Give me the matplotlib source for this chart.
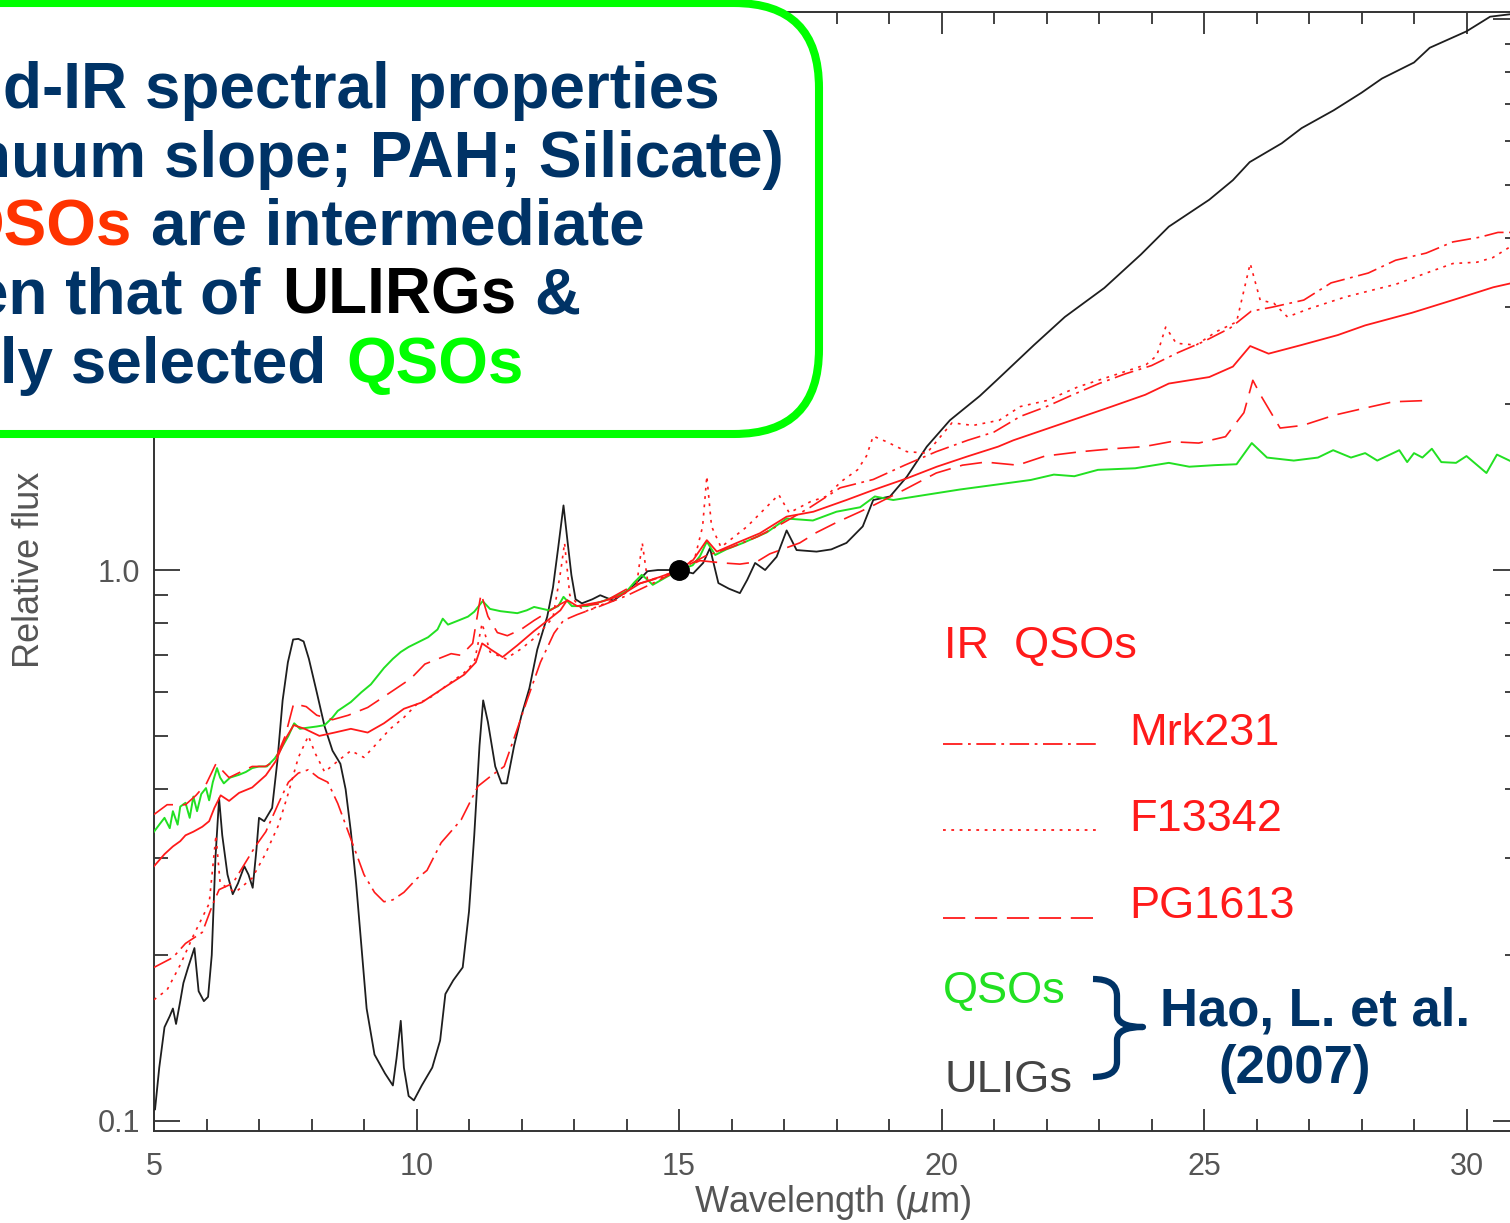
import numpy as np
import matplotlib
matplotlib.use('Agg')
import matplotlib.pyplot as plt
import matplotlib.transforms as mtransforms
from matplotlib.patches import FancyBboxPatch, PathPatch
from matplotlib.path import Path
from matplotlib.lines import Line2D
from matplotlib.ticker import FixedLocator, MultipleLocator, LogLocator, NullFormatter, FuncFormatter

plt.rcParams['lines.scale_dashes'] = False

# ---------------- data ----------------
uligs_wl = [5.02, 5.1, 5.2, 5.3, 5.36, 5.42, 5.5, 5.56, 5.65, 5.77, 5.85, 5.95, 6.03, 6.1, 6.17, 6.24,
            6.3, 6.4, 6.5, 6.6, 6.72, 6.8, 6.88, 6.95, 7.0, 7.1, 7.25, 7.35, 7.45, 7.55, 7.65, 7.75,
            7.85, 7.95, 8.1, 8.25, 8.4, 8.55, 8.65, 8.75, 8.85, 8.95, 9.05, 9.2, 9.4, 9.55, 9.62, 9.7,
            9.76, 9.85, 9.95, 10.1, 10.3, 10.45, 10.55, 10.7, 10.88, 11.0, 11.1, 11.2, 11.27, 11.36,
            11.5, 11.62, 11.72, 11.86, 12.0, 12.15, 12.3, 12.49, 12.6, 12.7, 12.8, 12.88, 12.95, 13.03,
            13.15, 13.35, 13.5, 13.75, 14.0, 14.2, 14.4, 14.6, 14.8, 15.0, 15.27, 15.46, 15.59, 15.75,
            15.95, 16.16, 16.3, 16.45, 16.64, 16.86, 17.05, 17.24, 17.62, 17.9, 18.19, 18.5, 18.7,
            19.02, 19.34, 19.72, 20.16, 20.73, 21.05, 21.76, 22.35, 23.1, 23.8, 24.33, 25.1, 25.55,
            25.87, 26.48, 26.86, 27.47, 28.0, 28.39, 29.0, 29.3, 30.0, 30.45, 31.0]
uligs_flux = [0.105, 0.125, 0.148, 0.155, 0.160, 0.150, 0.165, 0.178, 0.190, 0.206, 0.172, 0.165, 0.168, 0.200, 0.300, 0.385,
              0.330, 0.280, 0.258, 0.270, 0.290, 0.280, 0.265, 0.310, 0.355, 0.350, 0.370, 0.450, 0.580, 0.680, 0.748, 0.750,
              0.742, 0.690, 0.600, 0.520, 0.470, 0.445, 0.400, 0.335, 0.270, 0.208, 0.160, 0.132, 0.122, 0.116, 0.130, 0.152,
              0.125, 0.111, 0.109, 0.116, 0.125, 0.140, 0.170, 0.180, 0.190, 0.240, 0.330, 0.480, 0.580, 0.530,
              0.440, 0.410, 0.410, 0.480, 0.545, 0.610, 0.717, 0.823, 0.930, 1.100, 1.310, 1.120, 0.980, 0.885,
              0.870, 0.885, 0.900, 0.880, 0.915, 0.950, 0.995, 1.000, 1.000, 1.000, 0.986, 1.030, 1.096, 0.947,
              0.925, 0.908, 0.960, 1.030, 1.000, 1.057, 1.180, 1.087, 1.080, 1.090, 1.120, 1.200, 1.340,
              1.360, 1.477, 1.675, 1.870, 2.070, 2.210, 2.560, 2.880, 3.250, 3.740, 4.200, 4.700, 5.100,
              5.500, 5.950, 6.340, 6.830, 7.350, 7.800, 8.340, 8.870, 9.500, 10.10, 10.25]

qso_wl = [5.0, 5.1, 5.2, 5.3, 5.36, 5.45, 5.5, 5.6, 5.68, 5.75, 5.82, 5.9, 5.99, 6.05, 6.12, 6.2, 6.26,
          6.33, 6.45, 6.62, 6.75, 6.87, 7.0, 7.15, 7.3, 7.4, 7.56, 7.67, 7.78, 7.9, 8.1, 8.25, 8.4, 8.5,
          8.75, 8.95, 9.13, 9.38, 9.55, 9.7, 9.85, 10.0, 10.22, 10.4, 10.5, 10.6, 10.8, 10.98, 11.1,
          11.26, 11.4, 11.6, 11.92, 12.1, 12.24, 12.52, 12.7, 12.8, 12.96, 13.25, 13.63, 14.0, 14.15,
          14.29, 14.4, 14.5, 14.75, 15.0, 15.26, 15.4, 15.53, 15.69, 15.9, 16.22, 16.67, 17.05, 17.55,
          18.0, 18.45, 18.73, 19.08, 19.72, 20.35, 21.07, 21.7, 22.14, 22.53, 22.98, 23.69, 24.33,
          24.72, 25.2, 25.62, 25.91, 26.2, 26.71, 27.17, 27.46, 27.8, 28.07, 28.3, 28.72, 28.87, 29.0,
          29.16, 29.34, 29.52, 29.8, 30.0, 30.38, 30.58, 31.0]
qso_flux = [0.335, 0.345, 0.355, 0.340, 0.365, 0.345, 0.372, 0.378, 0.355, 0.388, 0.365, 0.392, 0.402, 0.382, 0.412, 0.437, 0.420,
            0.410, 0.420, 0.425, 0.430, 0.437, 0.440, 0.440, 0.455, 0.470, 0.500, 0.527, 0.515, 0.517, 0.520, 0.523, 0.540, 0.555,
            0.576, 0.600, 0.620, 0.664, 0.690, 0.710, 0.725, 0.737, 0.755, 0.780, 0.816, 0.796, 0.810, 0.823, 0.840,
            0.878, 0.850, 0.842, 0.835, 0.845, 0.857, 0.845, 0.860, 0.894, 0.860, 0.860, 0.883, 0.914, 0.950,
            0.980, 0.960, 0.940, 0.970, 1.000, 1.020, 1.060, 1.126, 1.065, 1.090, 1.120, 1.170, 1.240, 1.230,
            1.276, 1.300, 1.360, 1.340, 1.370, 1.400, 1.430, 1.457, 1.490, 1.480, 1.520, 1.530, 1.565,
            1.540, 1.550, 1.556, 1.700, 1.600, 1.580, 1.600, 1.650, 1.600, 1.630, 1.580, 1.650, 1.570, 1.630,
            1.600, 1.660, 1.570, 1.565, 1.610, 1.500, 1.620, 1.550]

irqso_wl = [5.0, 5.2, 5.36, 5.5, 5.6, 5.75, 5.92, 6.05, 6.15, 6.27, 6.43, 6.62, 6.87, 7.13, 7.32, 7.5, 7.66,
            7.87, 8.15, 8.44, 8.75, 9.07, 9.38, 9.76, 10.1, 10.54, 10.91, 11.13, 11.25, 11.42, 11.64, 11.92,
            12.24, 12.49, 12.74, 12.87, 13.06, 13.5, 13.88, 14.26, 14.63, 15.0, 15.27, 15.53, 15.72, 16.1,
            16.54, 17.05, 17.56, 18.19, 18.7, 19.34, 19.91, 20.48, 21.08, 21.37, 22.34, 23.24, 23.88, 24.33,
            25.1, 25.55, 25.88, 26.23, 26.85, 27.55, 28.07, 28.96, 29.74, 30.51, 31.0]
irqso_flux = [0.290, 0.305, 0.315, 0.322, 0.330, 0.335, 0.342, 0.350, 0.370, 0.390, 0.381, 0.394, 0.403, 0.424, 0.450, 0.493, 0.523,
              0.515, 0.500, 0.507, 0.515, 0.507, 0.527, 0.560, 0.575, 0.613, 0.646, 0.680, 0.736, 0.717, 0.695, 0.730,
              0.775, 0.809, 0.845, 0.882, 0.860, 0.875, 0.898, 0.946, 0.971, 1.000, 1.043, 1.133, 1.080, 1.120,
              1.166, 1.250, 1.276, 1.340, 1.397, 1.467, 1.540, 1.606, 1.675, 1.720, 1.850, 1.980, 2.080, 2.180,
              2.240, 2.340, 2.550, 2.470, 2.560, 2.670, 2.780, 2.930, 3.090, 3.260, 3.340]

mrk231_wl = [5.0, 5.36, 5.6, 5.92, 6.11, 6.24, 6.5, 6.93, 7.13, 7.37, 7.56, 7.75, 7.94, 8.13, 8.31, 8.5,
             8.75, 9.0, 9.2, 9.38, 9.55, 9.76, 10.0, 10.2, 10.47, 10.85, 11.17, 11.42, 11.67, 11.92, 12.11,
             12.36, 12.62, 12.8, 13.06, 13.5, 14.0, 14.5, 15.0, 15.5, 16.0, 16.5, 17.0, 17.5, 18.07, 18.7,
             19.3, 19.9, 20.5, 21.0, 21.5, 22.0, 22.5, 23.0, 23.5, 24.0, 24.5, 25.0, 25.5, 25.9, 26.3, 26.9,
             27.42, 28.13, 28.65, 29.23, 29.74, 30.26, 30.6, 31.0]
mrk231_flux = [0.190, 0.198, 0.210, 0.220, 0.246, 0.263, 0.270, 0.315, 0.335, 0.377, 0.412, 0.428, 0.434, 0.420, 0.412, 0.377,
               0.325, 0.280, 0.260, 0.250, 0.252, 0.260, 0.275, 0.285, 0.320, 0.352, 0.405, 0.423, 0.440, 0.515, 0.582,
               0.680, 0.768, 0.810, 0.830, 0.860, 0.898, 0.946, 1.000, 1.060, 1.100, 1.150, 1.220, 1.300, 1.410, 1.460,
               1.550, 1.640, 1.720, 1.780, 1.900, 1.980, 2.080, 2.180, 2.270, 2.350, 2.480, 2.600, 2.750, 2.950, 3.000, 3.090,
               3.320, 3.460, 3.650, 3.760, 3.940, 4.020, 4.100, 4.100]

f13342_wl = [5.0, 5.25, 5.5, 5.75, 6.05, 6.18, 6.26, 6.55, 6.87, 7.12, 7.37, 7.56, 7.75, 7.94, 8.07, 8.25,
             8.5, 8.75, 9.0, 9.25, 9.5, 9.76, 10.0, 10.3, 10.6, 10.9, 11.1, 11.25, 11.4, 11.7, 12.0, 12.3,
             12.6, 12.75, 12.82, 12.92, 13.2, 13.6, 14.0, 14.2, 14.3, 14.4, 14.7, 15.0, 15.3, 15.45, 15.53,
             15.62, 15.8, 16.3, 16.9, 17.1, 17.5, 17.8, 18.1, 18.4, 18.57, 18.7, 18.95, 19.34, 19.72, 20.2,
             20.6, 21.1, 21.5, 22.0, 22.6, 23.3, 23.9, 24.1, 24.27, 24.47, 24.85, 25.24, 25.62, 25.88, 26.07,
             26.33, 26.59, 27.0, 27.69, 28.2, 28.65, 29.2, 29.74, 30.2, 30.5, 31.0]
f13342_flux = [0.166, 0.173, 0.192, 0.217, 0.248, 0.330, 0.270, 0.260, 0.276, 0.305, 0.344, 0.394, 0.457, 0.500, 0.465, 0.430,
               0.450, 0.470, 0.457, 0.485, 0.515, 0.540, 0.570, 0.590, 0.620, 0.650, 0.680, 0.800, 0.710, 0.690, 0.720, 0.760,
               0.820, 1.000, 1.120, 0.900, 0.840, 0.870, 0.910, 0.950, 1.120, 0.960, 0.970, 1.000, 1.050, 1.200, 1.480,
               1.200, 1.100, 1.200, 1.370, 1.270, 1.330, 1.360, 1.450, 1.520, 1.610, 1.750, 1.710, 1.640, 1.630, 1.850,
               1.830, 1.870, 1.980, 2.030, 2.150, 2.260, 2.360, 2.450, 2.760, 2.580, 2.560, 2.710, 2.820, 3.600, 3.090,
               3.050, 2.880, 2.980, 3.130, 3.220, 3.300, 3.450, 3.600, 3.620, 3.690, 3.950]

pg1613_wl = [5.0, 5.25, 5.6, 5.8, 6.0, 6.18, 6.43, 6.65, 6.87, 7.12, 7.3, 7.5, 7.66, 7.9, 8.1, 8.4, 8.7,
             9.07, 9.38, 9.64, 9.89, 10.16, 10.66, 10.85, 11.07, 11.23, 11.36, 11.54, 11.73, 11.99, 12.24,
             12.49, 12.74, 12.87, 13.06, 13.5, 14.13, 14.5, 15.0, 15.4, 15.84, 16.16, 16.48, 16.73, 17.3,
             17.62, 18.0, 18.45, 18.7, 19.3, 19.9, 20.4, 20.84, 21.45, 21.97, 22.66, 23.26, 23.86, 24.37,
             24.9, 25.41, 25.76, 25.93, 26.1, 26.45, 26.88, 27.48, 28.09, 28.6, 29.2]
pg1613_flux = [0.360, 0.375, 0.375, 0.390, 0.410, 0.445, 0.420, 0.430, 0.440, 0.440, 0.450, 0.500, 0.572, 0.565, 0.545, 0.535, 0.545,
               0.563, 0.589, 0.612, 0.635, 0.675, 0.705, 0.700, 0.736, 0.906, 0.824, 0.770, 0.760, 0.780, 0.810,
               0.838, 0.867, 0.880, 0.860, 0.868, 0.938, 0.960, 1.000, 1.040, 1.030, 1.025, 1.035, 1.070, 1.120,
               1.170, 1.220, 1.276, 1.310, 1.400, 1.500, 1.550, 1.570, 1.550, 1.610, 1.640, 1.660, 1.675, 1.710,
               1.700, 1.746, 1.930, 2.210, 2.060, 1.810, 1.830, 1.910, 1.970, 2.020, 2.030]

norm_wl = [15.0]
norm_flux = [1.0]

xticks = [5, 10, 15, 20, 25, 30]
xticklabels = ['5', '10', '15', '20', '25', '30']
yticks = [0.1, 1.0, 10.0]
yticklabels = ['0.1', '1.0', '10.0']

# ---------------- figure ----------------
W, H = 1510, 1223
fig = plt.figure(figsize=(W / 100, H / 100), dpi=100)
fig.patch.set_facecolor('white')


def fx(x):
    return x / W


def fy(y):
    return 1 - y / H


ax = fig.add_axes([fx(154), fy(1131), (1519 - 154) / W, (1131 - 12) / H])
ax.set_yscale('log')
ax.set_xlim(5, 31)
ax.set_ylim(0.0959, 10.3)

RED = '#ff1a1a'
ax.plot(uligs_wl, uligs_flux, color='#1e1e1e', lw=1.3, zorder=3)
ax.plot(qso_wl, qso_flux, color='#22e022', lw=1.4, zorder=3)
ax.plot(irqso_wl, irqso_flux, color=RED, lw=1.3, zorder=3)
ax.plot(mrk231_wl, mrk231_flux, color=RED, lw=1.2, dashes=(14, 4, 2, 4), zorder=3)
ax.plot(f13342_wl, f13342_flux, color=RED, lw=1.2, dashes=(2, 4), zorder=3)
ax.plot(pg1613_wl, pg1613_flux, color=RED, lw=1.2, dashes=(16, 7), zorder=3)
ax.plot(norm_wl, norm_flux, 'o', color='black', ms=14, zorder=5)

AXC = '#333333'
LBL = '#555555'
for s in ax.spines.values():
    s.set_color(AXC)
    s.set_linewidth(1.4)

ax.xaxis.set_major_locator(FixedLocator(xticks))
ax.set_xticklabels(xticklabels)
ax.xaxis.set_minor_locator(MultipleLocator(1))
ax.yaxis.set_major_locator(FixedLocator(yticks))
ax.set_yticklabels(yticklabels)
ax.yaxis.set_minor_locator(LogLocator(base=10, subs=np.arange(2, 10)))
ax.yaxis.set_minor_formatter(NullFormatter())

ax.tick_params(which='both', direction='in', top=True, right=True, color=AXC, width=1.3,
               labelcolor=LBL)
ax.tick_params(axis='x', which='major', length=16, pad=15, labelsize=22)
ax.tick_params(axis='x', which='minor', length=8.6)
ax.tick_params(axis='y', which='major', length=19, pad=10, labelsize=22)
ax.tick_params(axis='y', which='minor', length=10)
for lab in ax.get_xticklabels() + ax.get_yticklabels():
    lab.set_fontfamily('Liberation Sans')

ax.set_xlabel(r'Wavelength ($\mu$m)', fontsize=26, color=LBL, family='Liberation Sans', va='center')
ax.xaxis.set_label_coords((833 - 154) / 1365, (1131 - 1203) / 1119)
ax.set_ylabel('Relative flux', fontsize=26, color=LBL, family='Liberation Sans', va='center')
ax.yaxis.set_label_coords((30 - 154) / 1365, (1131 - 570) / 1119)

# ---------------- legend (drawn like the original IDL annotation) ----------------
LF = dict(family='Liberation Sans', fontsize=32.5, va='baseline', ha='left')
fig.text(fx(944), fy(658), 'IR  QSOs', color=RED, **LF)
fig.text(fx(1129), fy(745), 'Mrk231', color=RED, **LF)
fig.text(fx(1129), fy(831), 'F13342', color=RED, **LF)
fig.text(fx(1129), fy(918), 'PG1613', color=RED, **LF)
fig.text(fx(943), fy(1003), 'QSOs', color='#22e022', **LF)
fig.text(fx(945), fy(1092), 'ULIGs', color='#444444', **LF)
for yy, ds in [(744, (14, 4, 2, 4)), (830, (2, 4)), (918, (16, 7))]:
    fig.add_artist(Line2D([fx(943), fx(1100)], [fy(yy), fy(yy)], color=RED, lw=1.3,
                          dashes=ds, transform=fig.transFigure))

NAVY = '#003366'
# brace
T = mtransforms.Affine2D().scale(1, -1).translate(0, H)
verts = [(1093, 979), (1117, 979), (1117, 996), (1117, 1014), (1117, 1027), (1143, 1027),
         (1117, 1027), (1117, 1040), (1117, 1062), (1117, 1077), (1093, 1077)]
codes = [Path.MOVETO, Path.CURVE3, Path.CURVE3, Path.LINETO, Path.CURVE3, Path.CURVE3,
         Path.CURVE3, Path.CURVE3, Path.LINETO, Path.CURVE3, Path.CURVE3]
fig.add_artist(PathPatch(Path(verts, codes), facecolor='none', edgecolor=NAVY, lw=4.5,
                         transform=T, capstyle='butt', joinstyle='round'))
BF = dict(family='Liberation Sans', fontsize=38, fontweight='bold', color=NAVY, va='baseline')
fig.text(fx(1160), fy(1025), 'Hao, L. et al.', ha='left', **BF)
fig.text(fx(1295), fy(1083), '(2007)', ha='center', **BF)

# ---------------- green rounded box with statement ----------------
box = FancyBboxPatch((-200, 3), 1019, 431, boxstyle='round,pad=0,rounding_size=85',
                     facecolor='white', edgecolor='#00ff00', lw=5.8, transform=T, zorder=10)
fig.add_artist(box)

TF = dict(family='Liberation Sans', fontsize=46, fontweight='bold', va='baseline', ha='right', zorder=11)
lines = [
    (108, [('Mid-IR spectral properties', NAVY, 720)]),
    (177, [('(continuum slope; PAH; Silicate)', NAVY, 784)]),
    (245, [('of IR', NAVY, -64), ('QSOs', '#ff3300', 132), ('are intermediate', NAVY, 645)]),
    (314, [('between that of', NAVY, 260), ('ULIRGs', '#000000', 516), ('&', NAVY, 580)]),
    (383, [('optically selected', NAVY, 326), ('QSOs', '#00ff00', 524)]),
]
for yb, segs in lines:
    for s, c, xr in segs:
        fig.text(fx(xr), fy(yb), s, color=c, **TF)

fig.savefig('out.png', dpi=100, facecolor='white')
